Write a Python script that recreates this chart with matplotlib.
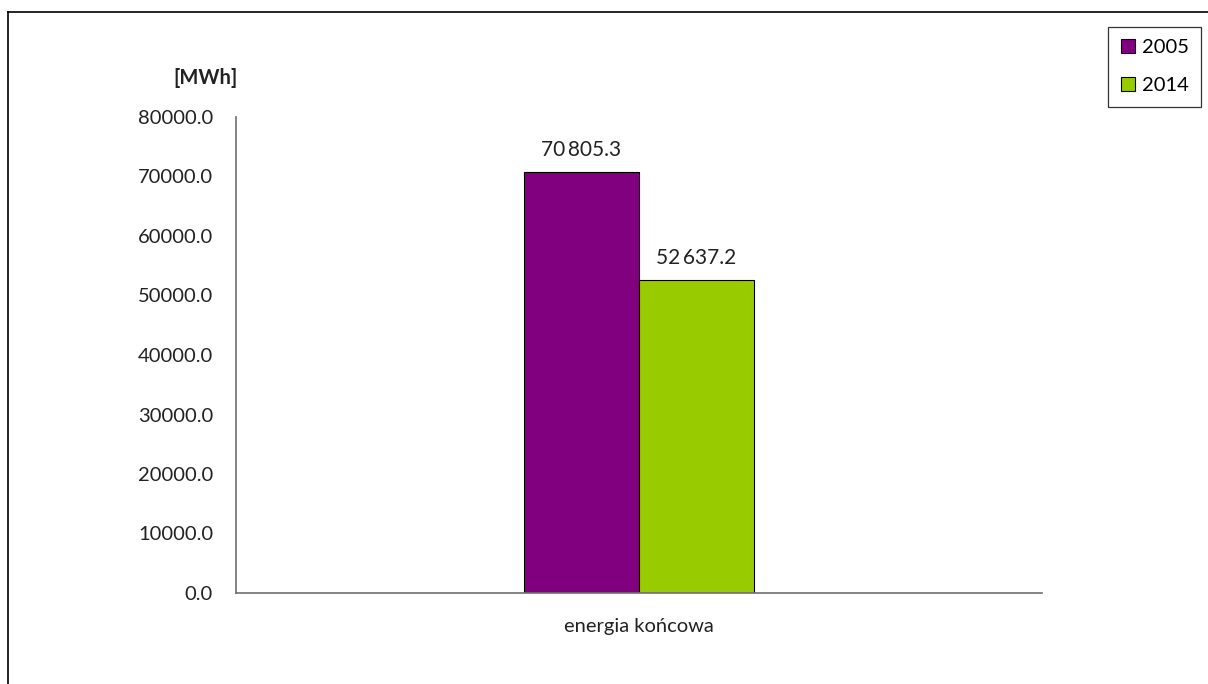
import matplotlib.pyplot as plt
from matplotlib.lines import Line2D

# Data
categories = ["energia końcowa"]
years = ["2005", "2014"]
values_2005 = [70805.3]
values_2014 = [52637.2]
colors = ["#800080", "#99CC00"]

plt.rcParams['font.family'] = ['Lato', 'DejaVu Sans']

fig = plt.figure(figsize=(12.08, 6.84), dpi=100)
ax = fig.add_axes([236 / 1208, 1 - 593 / 684, 806 / 1208, 476 / 684])

width = 0.1427
x = list(range(len(categories)))
series = [values_2005, values_2014]
for i, (vals, col) in enumerate(zip(series, colors)):
    pos = [xi + (i - 0.5) * width for xi in x]
    bars = ax.bar(pos, vals, width=width, color=col, edgecolor="black", linewidth=0.8)
    for b, v in zip(bars, vals):
        lbl = f"{v:,.1f}".replace(",", "\u2009")
        ax.text(b.get_x() + b.get_width() / 2, v + 2000, lbl, ha="center", va="bottom",
                fontsize=15, color="#222222")

ax.set_xlim(-0.5, 0.5)
ax.set_ylim(0, 80000)
ax.set_yticks(range(0, 80001, 10000))
ax.set_yticklabels([f"{t:.1f}" for t in range(0, 80001, 10000)])
ax.set_xticks(x)
ax.set_xticklabels(categories, fontsize=15.5)
ax.tick_params(axis="both", length=0, labelsize=14.5, colors="#222222")
ax.tick_params(axis="y", pad=16.5)
ax.tick_params(axis="x", pad=18)
for s in ["top", "right"]:
    ax.spines[s].set_visible(False)
for s in ["left", "bottom"]:
    ax.spines[s].set_color("#707070")
    ax.spines[s].set_linewidth(1.2)

fig.text(238 / 1208, 1 - 78 / 684, "[MWh]", ha="right", va="center",
         fontsize=14.5, fontweight="bold", color="#222222")

handles = [Line2D([], [], marker="s", linestyle="none", markersize=10,
                  markerfacecolor=c, markeredgecolor="black", markeredgewidth=0.8)
           for c in colors]
leg = fig.legend(handles, years, loc="upper right", bbox_to_anchor=(1201 / 1208, 1 - 27 / 684),
                 frameon=True, fancybox=False, fontsize=14.5, handlelength=0.8,
                 handletextpad=0.3, labelspacing=1.05, borderpad=0.6, borderaxespad=0)
leg.get_frame().set_edgecolor("black")
leg.get_frame().set_linewidth(0.9)

# outer frame (only left and top edges visible)
fig.add_artist(Line2D([8 / 1208, 8 / 1208], [0, 1 - 12 / 684], color="black", lw=1.2,
                      transform=fig.transFigure))
fig.add_artist(Line2D([8 / 1208, 1], [1 - 12 / 684, 1 - 12 / 684], color="black", lw=1.2,
                      transform=fig.transFigure))

fig.savefig("out.png", dpi=100)
